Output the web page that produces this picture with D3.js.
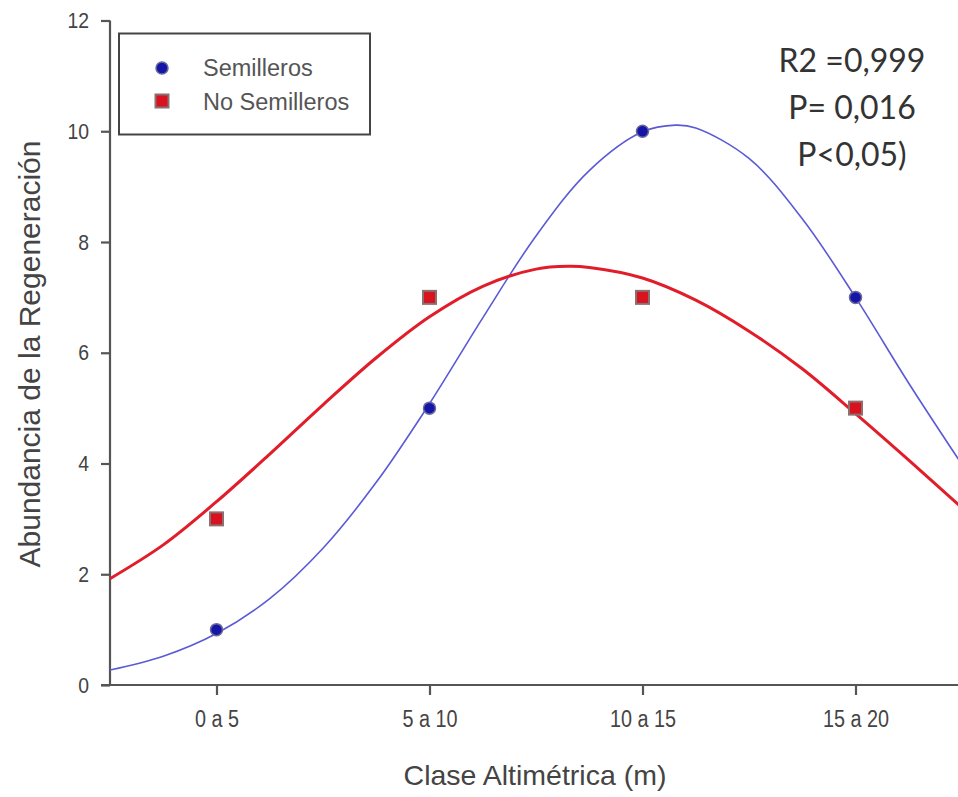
<!DOCTYPE html>
<html>
<head>
<meta charset="utf-8">
<script src="https://cdn.jsdelivr.net/npm/d3@7"></script>
<style>
  html, body { margin: 0; padding: 0; background: #fff; }
  svg { display: block; }
</style>
</head>
<body>
<svg id="chart" width="958" height="797"></svg>
<script>
// Altitude classes on the x axis
const categories = ["0 a 5", "5 a 10", "10 a 15", "15 a 20"];
// Observed regeneration abundance per class
const semilleros = [1, 5, 10, 7];
const noSemilleros = [3, 7, 7, 5];
// Fitted curves (class index, abundance)
const curveSemilleros = [
  [-0.5, 0.27], [-0.25, 0.52], [0, 0.93], [0.25, 1.56], [0.5, 2.47], [0.75, 3.66],
  [1, 5.08], [1.25, 6.63], [1.5, 8.11], [1.75, 9.29], [2, 9.99], [2.155, 10.11],
  [2.25, 10.06], [2.5, 9.51], [2.75, 8.42], [3, 7.0], [3.25, 5.45], [3.5, 3.98]
];
const curveNoSemilleros = [
  [-0.5, 1.92], [-0.25, 2.53], [0, 3.31], [0.25, 4.17], [0.5, 5.06], [0.75, 5.91],
  [1, 6.65], [1.25, 7.2], [1.5, 7.51], [1.65, 7.56], [1.75, 7.54], [2, 7.35],
  [2.25, 6.95], [2.5, 6.39], [2.75, 5.71], [3, 4.9], [3.25, 4.06], [3.5, 3.2]
];
const yTicks = [0, 2, 4, 6, 8, 10, 12];
const statsLines = ["R2 =0,999", "P= 0,016", "P<0,05)"];
const legendLabels = ["Semilleros", "No Semilleros"];

const svg = d3.select("#chart");
const plotLeft = 110, plotRight = 962, plotTop = 20.5, plotBottom = 685;

const x = d3.scaleLinear().domain([-0.5, 3.5]).range([plotLeft, plotRight]);
const y = d3.scaleLinear().domain([0, 12]).range([plotBottom, plotTop]);

const axisColor = "#555";
const textColor = "#444";
const sansFont = "Arial, 'Liberation Sans', sans-serif";

// Squeeze tick labels horizontally to a narrow face
function condense(sel, factor) {
  sel.each(function () {
    const w = this.getComputedTextLength();
    d3.select(this).attr("textLength", w * factor).attr("lengthAdjust", "spacingAndGlyphs");
  });
}

svg.append("defs").append("clipPath").attr("id", "plotClip")
  .append("rect").attr("x", plotLeft).attr("y", 0)
  .attr("width", plotRight - plotLeft).attr("height", plotBottom);

// Y axis
const yAxis = svg.append("g").attr("transform", `translate(${plotLeft},0)`)
  .call(d3.axisLeft(y).tickValues(yTicks).tickSize(9).tickPadding(12).tickFormat(d3.format("d")));
yAxis.select(".domain").attr("stroke", axisColor).attr("stroke-width", 2.2)
  .attr("d", `M0,${plotTop}V${plotBottom}`);
yAxis.selectAll(".tick line").attr("stroke", axisColor).attr("stroke-width", 2.2);
yAxis.selectAll(".tick text").attr("fill", textColor).attr("font-size", 22.5)
  .attr("font-family", sansFont).call(condense, 0.86);

// X axis
const xAxis = svg.append("g").attr("transform", `translate(0,${plotBottom})`)
  .call(d3.axisBottom(x).tickValues(d3.range(categories.length)).tickSize(10).tickPadding(16)
    .tickFormat(i => categories[i]));
xAxis.select(".domain").attr("stroke", axisColor).attr("stroke-width", 2.2)
  .attr("d", `M${plotLeft - 9},0H${plotRight}`);
xAxis.selectAll(".tick line").attr("stroke", axisColor).attr("stroke-width", 2.2);
xAxis.selectAll(".tick text").attr("fill", textColor).attr("font-size", 23)
  .attr("font-family", sansFont).call(condense, 0.86);

// Axis titles
svg.append("text")
  .attr("transform", `translate(40,354) rotate(-90)`)
  .attr("text-anchor", "middle")
  .attr("font-family", sansFont).attr("font-size", 30).attr("fill", textColor)
  .text("Abundancia de la Regeneración");
svg.append("text")
  .attr("x", 535).attr("y", 785)
  .attr("text-anchor", "middle")
  .attr("font-family", sansFont).attr("font-size", 28.5).attr("fill", textColor)
  .text("Clase Altimétrica (m)");

// Fitted curves
const line = d3.line().x(d => x(d[0])).y(d => y(d[1])).curve(d3.curveCatmullRom.alpha(0.5));
const plot = svg.append("g").attr("clip-path", "url(#plotClip)");
plot.append("path").datum(curveSemilleros)
  .attr("d", line).attr("fill", "none").attr("stroke", "#5a5ad6").attr("stroke-width", 1.6);
plot.append("path").datum(curveNoSemilleros)
  .attr("d", line).attr("fill", "none").attr("stroke", "#e11d2a").attr("stroke-width", 3);

// Observed points
const sq = 13;
plot.selectAll("rect.obs").data(noSemilleros).join("rect")
  .attr("class", "obs")
  .attr("x", (d, i) => x(i) - sq / 2).attr("y", d => y(d) - sq / 2)
  .attr("width", sq).attr("height", sq)
  .attr("fill", "#d8121e").attr("stroke", "#8a7070").attr("stroke-width", 2);
plot.selectAll("circle.obs").data(semilleros).join("circle")
  .attr("class", "obs")
  .attr("cx", (d, i) => x(i)).attr("cy", d => y(d)).attr("r", 6)
  .attr("fill", "#1515a8").attr("stroke", "#6a6a9a").attr("stroke-width", 1.5);

// Legend
const legend = svg.append("g");
legend.append("rect").attr("x", 119).attr("y", 33.5).attr("width", 251).attr("height", 101)
  .attr("fill", "#fff").attr("stroke", "#444").attr("stroke-width", 2);
legend.append("circle").attr("cx", 162).attr("cy", 68).attr("r", 6)
  .attr("fill", "#1515a8").attr("stroke", "#6a6a9a").attr("stroke-width", 1.5);
legend.append("rect").attr("x", 162 - sq / 2).attr("y", 101 - sq / 2).attr("width", sq).attr("height", sq)
  .attr("fill", "#d8121e").attr("stroke", "#8a7070").attr("stroke-width", 2);
legend.selectAll("text").data(legendLabels).join("text")
  .attr("x", 203).attr("y", (d, i) => 76 + i * 34)
  .attr("font-family", sansFont).attr("font-size", 23.5).attr("fill", "#555")
  .text(d => d);

// Fit statistics
svg.append("g").selectAll("text").data(statsLines).join("text")
  .attr("x", 852).attr("y", (d, i) => 72 + i * 47)
  .attr("text-anchor", "middle")
  .attr("font-family", "Lato, 'Open Sans', sans-serif").attr("font-size", 32).attr("fill", "#333")
  .text(d => d);
</script>
</body>
</html>
